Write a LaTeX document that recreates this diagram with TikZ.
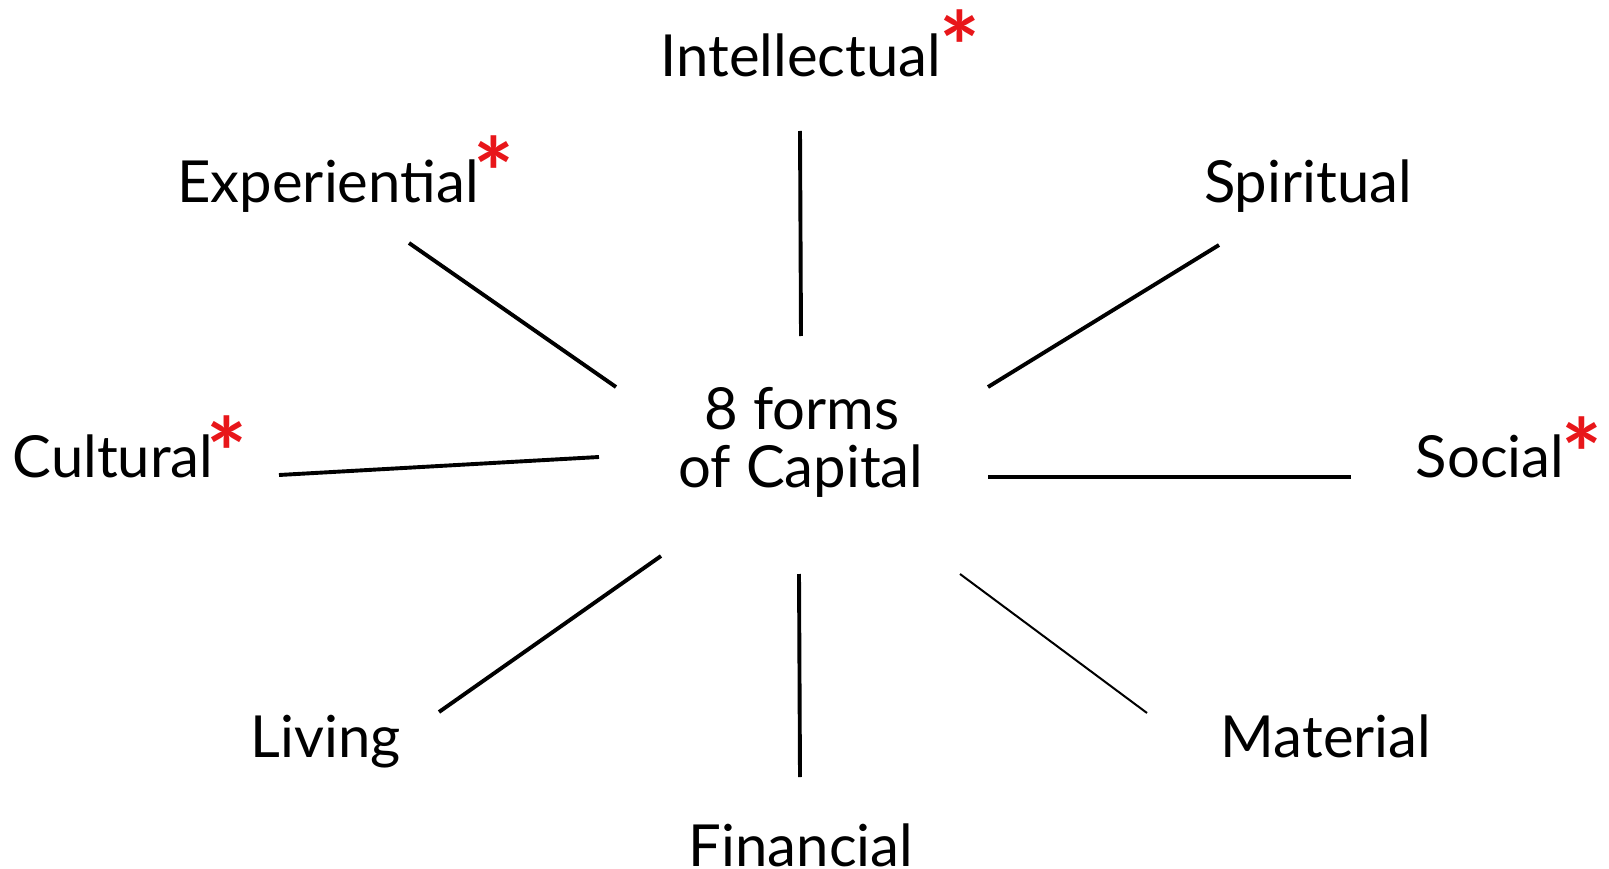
\documentclass[tikz,border=0pt]{standalone}
\usepackage{fontspec}
\setmainfont{Lato}
\definecolor{starred}{RGB}{232,22,26}

\begin{document}
\begin{tikzpicture}
[
	x=1pt,
	y=-1pt,
	form/.style={anchor=base,inner sep=0pt,font=\fontsize{58}{70}\selectfont},
	star/.style={anchor=center,inner sep=0pt,text=starred,font=\fontsize{96}{96}\selectfont\bfseries},
	spoke/.style={line width=3.9pt},
	thinspoke/.style={line width=2pt}
]

	\useasboundingbox (0,0) rectangle (1609,869);

	% labels
	\node[form] (intel) at (801,77) {Intellectual};
	\node[form] (exper) at (328,203) {Experiential};
	\node[form] (spirit) at (1308,203) {Spiritual};
	\node[form] (cult) at (113,477) {Cultural};
	\node[form] (soc) at (1490,477) {Social};
	\node[form] (liv) at (326,757) {Living};
	\node[form] (mat) at (1326,757) {Material};
	\node[form] (fin) at (801,866) {Financial};

	% centre
	\node[form] (eight) at (802,429) {8 forms};
	\node[form] (ofcap) at (801,487) {of Capital};

	% asterisks
	\node[star] (s1) at (960,46) {*};
	\node[star] (s2) at (494,172) {*};
	\node[star] (s3) at (227,452) {*};
	\node[star] (s4) at (1582,453) {*};

	% spoke ends
	\coordinate (a1) at (800,131);
	\coordinate (b1) at (801,336);
	\coordinate (a2) at (409,243);
	\coordinate (b2) at (616,387);
	\coordinate (a3) at (1219,245);
	\coordinate (b3) at (988,387);
	\coordinate (a4) at (279,475);
	\coordinate (b4) at (599,457);
	\coordinate (a5) at (1351,477);
	\coordinate (b5) at (988,477);
	\coordinate (a6) at (439,712);
	\coordinate (b6) at (661,556);
	\coordinate (a7) at (800,777);
	\coordinate (b7) at (799,574);
	\coordinate (a8) at (1147,713);
	\coordinate (b8) at (960,574);

	% spokes
	\foreach \i in {1,...,7} {
		\draw[spoke] (a\i) -- (b\i);
	}
	\draw[thinspoke] (a8) -- (b8);

\end{tikzpicture}
\end{document}
